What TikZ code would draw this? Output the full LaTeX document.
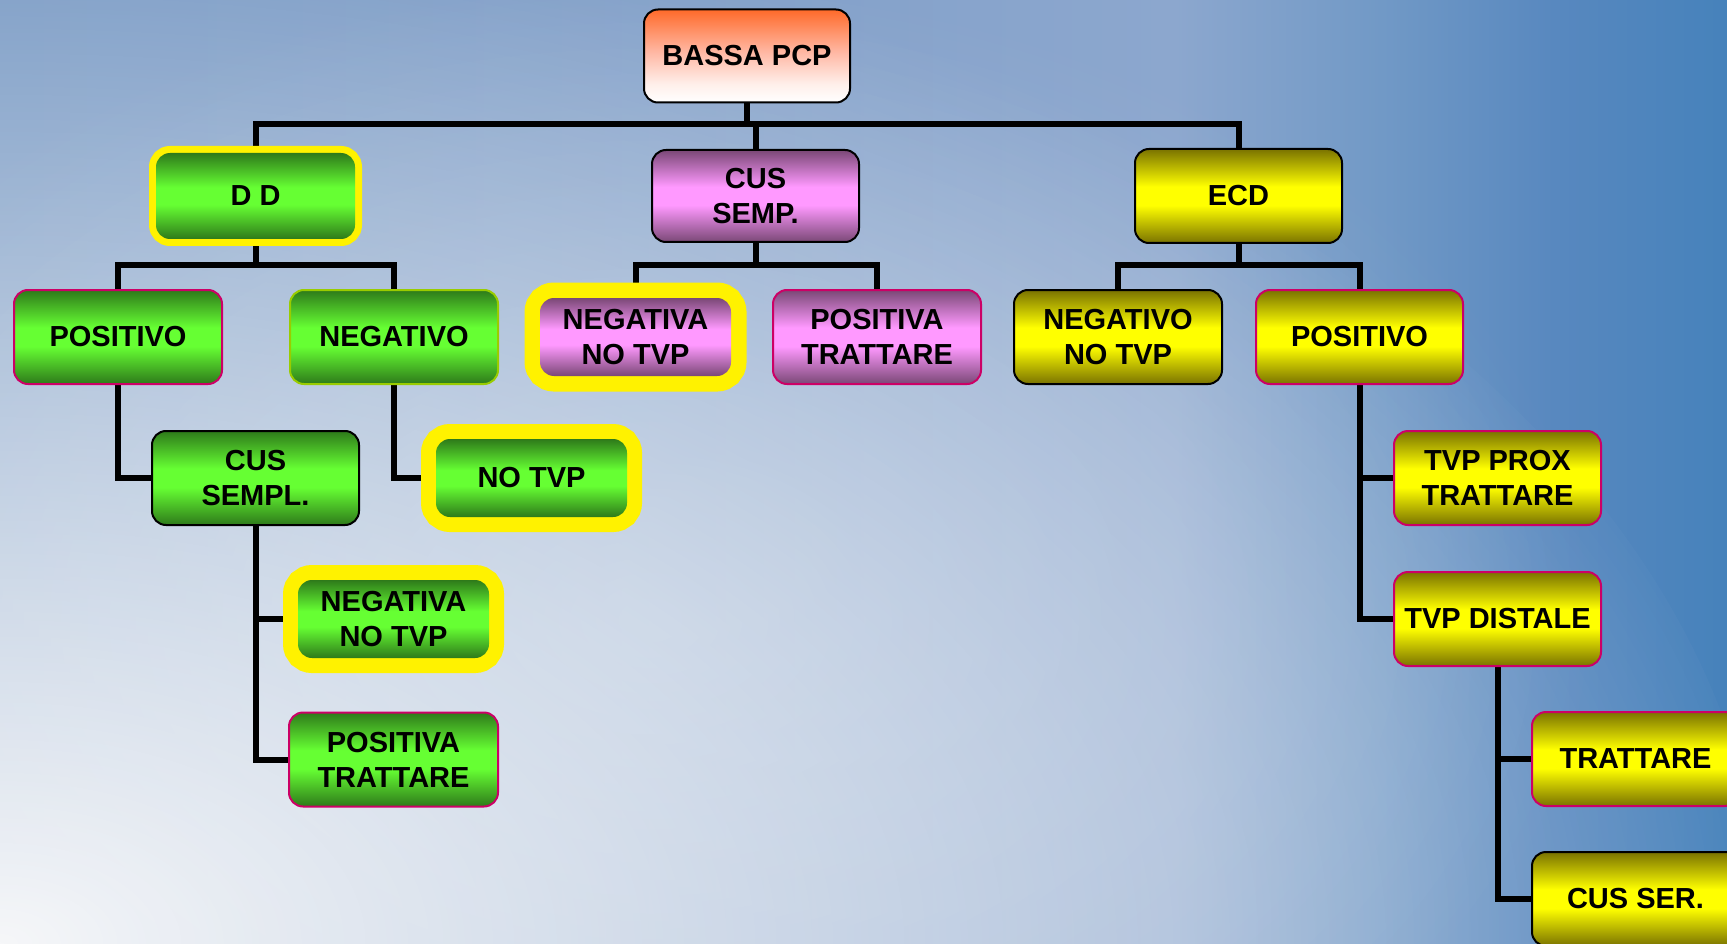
\documentclass[tikz,border=0pt]{standalone}
\usepackage{fontspec}
\setmainfont{Liberation Sans}
\usetikzlibrary{fadings}
\definecolor{bgA}{HTML}{7A9BC5}
\definecolor{bgB}{HTML}{82A0C9}
\definecolor{bgC}{HTML}{8CA7CE}
\definecolor{bgD}{HTML}{7199C6}
\definecolor{bgE}{HTML}{5888BF}
\definecolor{bgF}{HTML}{4682BB}
\definecolor{glowc}{HTML}{F6F7F9}
\definecolor{gdk}{HTML}{2E7A1A}
\definecolor{glt}{HTML}{66FF33}
\definecolor{pdk}{HTML}{7A4876}
\definecolor{plt}{HTML}{FF99FF}
\definecolor{ydk}{HTML}{7A7300}
\definecolor{ylt}{HTML}{FFFF00}
\definecolor{odk}{HTML}{FF6A2A}
\definecolor{omid}{HTML}{FFB8A4}
\definecolor{olt}{HTML}{FFEFEA}
\definecolor{crim}{HTML}{CC0066}
\definecolor{ygreen}{HTML}{99CC00}
\pgfdeclarehorizontalshading{bgsh}{100bp}{color(0bp)=(bgA); color(25bp)=(bgA); color(45bp)=(bgB); color(59bp)=(bgC); color(65bp)=(bgD); color(70bp)=(bgE); color(75bp)=(bgF); color(100bp)=(bgF)}
\pgfdeclareverticalshading{gsh}{100bp}{color(0bp)=(gdk); color(25bp)=(gdk); color(45bp)=(glt); color(55bp)=(glt); color(75bp)=(gdk); color(100bp)=(gdk)}
\pgfdeclareverticalshading{psh}{100bp}{color(0bp)=(pdk); color(25bp)=(pdk); color(45bp)=(plt); color(55bp)=(plt); color(75bp)=(pdk); color(100bp)=(pdk)}
\pgfdeclareverticalshading{ysh}{100bp}{color(0bp)=(ydk); color(25bp)=(ydk); color(45bp)=(ylt); color(55bp)=(ylt); color(75bp)=(ydk); color(100bp)=(ydk)}
\pgfdeclareverticalshading{osh}{100bp}{color(0bp)=(white); color(25bp)=(white); color(35bp)=(olt); color(52bp)=(omid); color(75bp)=(odk); color(100bp)=(odk)}
\tikzfading[name=glowfade, inner color=transparent!0, outer color=transparent!100]
\pgfdeclarelayer{back}
\pgfdeclarelayer{lines}
\pgfsetlayers{back,lines,main}
\begin{document}
\begin{tikzpicture}[x=1pt,y=-1pt,
  box/.style={rounded corners=14pt, shade, align=center, inner sep=0pt,
    minimum width=207pt, minimum height=94pt, line width=2pt,
    font=\bfseries\fontsize{29}{35}\selectfont},
  gbox/.style={box, shading=gsh},
  pbox/.style={box, shading=psh},
  ybox/.style={box, shading=ysh},
  bk/.style={draw=black},
  cr/.style={draw=crim},
  yg/.style={draw=ygreen},
  ring/.style={minimum width=191pt, minimum height=78pt,
    preaction={draw=yellow, line width=#1}},
  conn/.style={line width=6pt}]
\useasboundingbox (0,0) rectangle (1727,944);

% nodes
\node[box, shading=osh, bk, minimum width=206pt, minimum height=93pt] (root) at (747,56) {BASSA PCP};
\node[gbox, ring=14pt, minimum width=199pt, minimum height=86pt] (dd) at (255.5,196) {D D};
\node[pbox, bk, minimum height=92pt] (cs) at (755.5,196) {CUS\\SEMP.};
\node[ybox, bk] (ecd) at (1238.5,196) {ECD};
\node[gbox, cr, minimum width=208pt] (pos1) at (118,337) {POSITIVO};
\node[gbox, yg, minimum width=208pt] (neg1) at (394,337) {NEGATIVO};
\node[pbox, ring=31pt] (neg2) at (635.5,337) {NEGATIVA\\NO TVP};
\node[pbox, cr, minimum width=208pt] (pos2) at (877,337) {POSITIVA\\TRATTARE};
\node[ybox, bk, minimum width=208pt] (neg3) at (1118,337) {NEGATIVO\\NO TVP};
\node[ybox, cr] (pos3) at (1359.5,337) {POSITIVO};
\node[gbox, bk] (csl) at (255.5,478) {CUS\\SEMPL.};
\node[gbox, ring=30pt] (notvp) at (531.5,478) {NO TVP};
\node[ybox, cr] (prox) at (1497.5,478) {TVP PROX\\TRATTARE};
\node[gbox, ring=30pt] (neg4) at (393.5,619) {NEGATIVA\\NO TVP};
\node[ybox, cr] (dist) at (1497.5,619) {TVP DISTALE};
\node[gbox, cr, minimum width=209pt] (pos4) at (393.5,759.5) {POSITIVA\\TRATTARE};
\node[ybox, cr] (tratt) at (1635.5,759) {TRATTARE};
\node[ybox, bk] (cusser) at (1635.5,899) {CUS SER.};

% background
\begin{pgfonlayer}{back}
\shade[shading=bgsh] (0,0) rectangle (1727,944);
\begin{scope}
\clip (0,0) rectangle (1727,944);
\fill[glowc, path fading=glowfade, fit fading=true] (0,944) ellipse [x radius=1800pt, y radius=1050pt];
\fill[glowc, fill opacity=0.3, path fading=glowfade, fit fading=true] (650,620) ellipse [x radius=950pt, y radius=650pt];
\end{scope}
\end{pgfonlayer}

% connectors
\begin{pgfonlayer}{lines}
\coordinate (y0) at (0,124.5);
\coordinate (y1) at (0,265);
\draw[conn] (root.south) -- (root.south |- y0);
\draw[conn] (dd.north) |- (root.south |- y0) -| (ecd.north);
\draw[conn] (cs.north) -- (cs.north |- y0);
\draw[conn] (dd.south) -- (dd.south |- y1);
\draw[conn] (pos1.north) |- (dd.south |- y1) -| (neg1.north);
\draw[conn] (cs.south) -- (cs.south |- y1);
\draw[conn] (neg2.north) |- (cs.south |- y1) -| (pos2.north);
\draw[conn] (ecd.south) -- (ecd.south |- y1);
\draw[conn] (neg3.north) |- (ecd.south |- y1) -| (pos3.north);
\draw[conn] (pos1.south) |- (csl.west);
\draw[conn] (neg1.south) |- (notvp.west);
\draw[conn] (csl.south) |- (neg4.west);
\draw[conn] (csl.south) |- (pos4.west);
\draw[conn] (pos3.south) |- (prox.west);
\draw[conn] (pos3.south) |- (dist.west);
\draw[conn] (dist.south) |- (tratt.west);
\draw[conn] (dist.south) |- (cusser.west);
\end{pgfonlayer}
\end{tikzpicture}
\end{document}
